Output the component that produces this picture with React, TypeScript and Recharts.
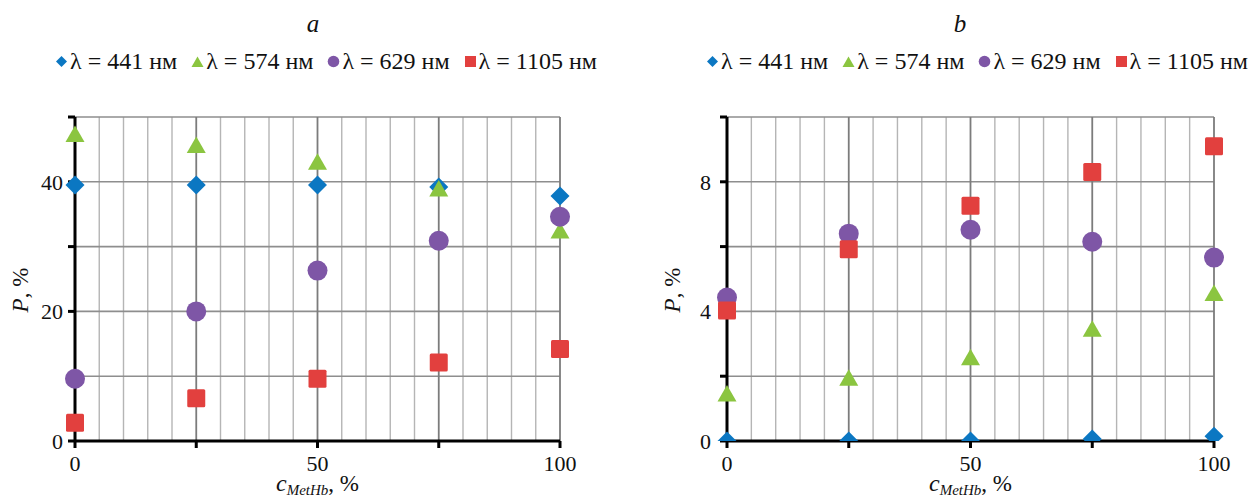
import { ScatterChart, Scatter, XAxis, YAxis, ReferenceLine } from 'recharts'

const FONT = '"Liberation Serif", "DejaVu Serif", "Noto Serif", "Times New Roman", serif'

// concentration of MetHb, %
const cValues = [0, 25, 50, 75, 100]

const seriesLabels = ['λ = 441 нм', 'λ = 574 нм', 'λ = 629 нм', 'λ = 1105 нм']
const seriesColors = ['#0b77c2', '#8bc540', '#7e56a6', '#e2403e']
const seriesShapes = ['diamond', 'triangle', 'circle', 'square'] as const

// panel a
const a441 = [39.5, 39.5, 39.5, 39.2, 37.8]
const a574 = [47.3, 45.6, 43.0, 38.9, 32.4]
const a629 = [9.6, 20.0, 26.3, 30.9, 34.6]
const a1105 = [2.8, 6.6, 9.6, 12.1, 14.2]

// panel b
const b441 = [0, 0, 0, 0.06, 0.15]
const b574 = [1.45, 1.94, 2.57, 3.45, 4.55]
const b629 = [4.43, 6.4, 6.52, 6.15, 5.66]
const b1105 = [4.03, 5.92, 7.26, 8.3, 9.1]

const xTicks = [0, 25, 50, 75, 100]
const xTickLabels = [0, 50, 100]
const xMajorGrid = [25, 50, 75, 100]
const xMinorGrid = [5, 10, 15, 20, 30, 35, 40, 45, 55, 60, 65, 70, 80, 85, 90, 95]

const yTicksA = [0, 10, 20, 30, 40, 50]
const yLabelsA = [0, 20, 40]
const yTicksB = [0, 2, 4, 6, 8, 10]
const yLabelsB = [0, 4, 8]

type Kind = (typeof seriesShapes)[number]

const Marker = ({ kind, cx, cy, fill }: { kind: Kind; cx: number; cy: number; fill: string }) => {
  if (cx == null || cy == null) return null
  if (kind === 'diamond') {
    const h = 9.5
    return <path d={`M${cx},${cy - h}L${cx + h},${cy}L${cx},${cy + h}L${cx - h},${cy}Z`} fill={fill} />
  }
  if (kind === 'triangle') {
    return <path d={`M${cx},${cy - 9}L${cx + 9.5},${cy + 7.5}L${cx - 9.5},${cy + 7.5}Z`} fill={fill} />
  }
  if (kind === 'circle') return <circle cx={cx} cy={cy} r={10} fill={fill} />
  return <rect x={cx - 9} y={cy - 9} width={18} height={18} rx={1.5} fill={fill} />
}

const LegendIcon = ({ kind, fill }: { kind: Kind; fill: string }) => (
  <svg width={13} height={13} style={{ marginRight: 2 }}>
    {kind === 'diamond' && <path d="M6.5,1L12,6.5L6.5,12L1,6.5Z" fill={fill} />}
    {kind === 'triangle' && <path d="M6.5,1.5L12.5,12L0.5,12Z" fill={fill} />}
    {kind === 'circle' && <circle cx={6.5} cy={6.5} r={5.8} fill={fill} />}
    {kind === 'square' && <rect x={1} y={1} width={11} height={11} fill={fill} />}
  </svg>
)

const XTitle = (props: any) => {
  const { x, y, width } = props.viewBox
  return (
    <text x={x + width / 2} y={y + 50} textAnchor="middle" fontFamily={FONT} fill="#111">
      <tspan fontStyle="italic" fontSize={24}>c</tspan>
      <tspan fontStyle="italic" fontSize={15} dy={4}>MetHb</tspan>
      <tspan fontSize={23} dy={-4}>, %</tspan>
    </text>
  )
}

const YTitle = (props: any) => {
  const { x, y, width, height } = props.viewBox
  const tx = x + width - 47
  const ty = y + height / 2 + 11
  return (
    <text x={tx} y={ty} transform={`rotate(-90, ${tx}, ${ty})`} textAnchor="middle" fontFamily={FONT} fontSize={23} fill="#111">
      <tspan fontStyle="italic">P</tspan>
      <tspan>, %</tspan>
    </text>
  )
}

interface PanelProps {
  title: string
  values: number[][]
  yMax: number
  yTicks: number[]
  yLabels: number[]
  yGrid: number[]
  left: number
  marginLeft: number
  marginRight: number
  tickGap: number
  titleX: number
  legendX: number
}

const Panel = (p: PanelProps) => (
  <div style={{ position: 'absolute', left: p.left, top: 0, width: 627, height: 501 }}>
    <div
      style={{
        position: 'absolute', left: p.titleX - 20, width: 40, top: 9, textAlign: 'center',
        fontStyle: 'italic', fontSize: 25, lineHeight: '30px', color: '#111',
      }}
    >
      {p.title}
    </div>
    <div
      style={{
        position: 'absolute', left: p.legendX, top: 46, display: 'flex', alignItems: 'center',
        fontSize: 24, lineHeight: '30px', color: '#111', whiteSpace: 'nowrap',
      }}
    >
      {seriesLabels.map((name, i) => (
        <span key={name} style={{ display: 'flex', alignItems: 'center', marginRight: 14 }}>
          <LegendIcon kind={seriesShapes[i]} fill={seriesColors[i]} />
          {name}
        </span>
      ))}
    </div>
    <div style={{ position: 'absolute', left: 0, top: 0 }}>
      <ScatterChart
        width={627}
        height={501}
        margin={{ top: 117, right: p.marginRight, bottom: 20, left: p.marginLeft }}
      >
        <XAxis
          type="number"
          dataKey="x"
          domain={[0, 100]}
          ticks={xTicks}
          interval={0}
          tickFormatter={(v: number) => (xTickLabels.includes(v) ? String(v) : '')}
          height={40}
          axisLine={{ stroke: '#000', strokeWidth: 3 }}
          tickLine={{ stroke: '#000', strokeWidth: 3 }}
          tickSize={7}
          tickMargin={7}
          tick={{ fill: '#111', fontSize: 22, fontFamily: FONT }}
          label={<XTitle />}
        />
        <YAxis
          type="number"
          dataKey="y"
          domain={[0, p.yMax]}
          ticks={p.yTicks}
          interval={0}
          allowDataOverflow
          tickFormatter={(v: number) => (p.yLabels.includes(v) ? String(v) : '')}
          width={60}
          axisLine={{ stroke: '#000', strokeWidth: 3 }}
          tickLine={{ stroke: '#000', strokeWidth: 3 }}
          tickSize={7}
          tickMargin={p.tickGap}
          tick={{ fill: '#111', fontSize: 22, fontFamily: FONT }}
          label={<YTitle />}
        />
        {xMinorGrid.map(v => (
          <ReferenceLine key={'xm' + v} x={v} stroke="#b5b5b5" strokeWidth={1.4} />
        ))}
        {p.yGrid.map(v => (
          <ReferenceLine key={'y' + v} y={v} stroke="#8e8e8e" strokeWidth={1.6} />
        ))}
        {xMajorGrid.map(v => (
          <ReferenceLine key={'xM' + v} x={v} stroke="#7c7c7c" strokeWidth={1.8} />
        ))}
        {p.values.map((vals, i) => (
          <Scatter
            key={seriesLabels[i]}
            name={seriesLabels[i]}
            data={cValues.map((c, j) => ({ x: c, y: vals[j] }))}
            fill={seriesColors[i]}
            isAnimationActive={false}
            shape={(sp: any) => <Marker kind={seriesShapes[i]} cx={sp.cx} cy={sp.cy} fill={seriesColors[i]} />}
          />
        ))}
      </ScatterChart>
    </div>
  </div>
)

export default function App() {
  return (
    <div
      style={{
        position: 'absolute', left: 0, top: 0, width: 1254, height: 501,
        background: '#fff', fontFamily: FONT, overflow: 'hidden',
      }}
    >
      <Panel
        title="a"
        values={[a441, a574, a629, a1105]}
        yMax={50}
        yTicks={yTicksA}
        yLabels={yLabelsA}
        yGrid={[10, 20, 30, 40, 50]}
        left={0}
        marginLeft={15}
        marginRight={67}
        tickGap={5}
        titleX={313}
        legendX={55}
      />
      <Panel
        title="b"
        values={[b441, b574, b629, b1105]}
        yMax={10}
        yTicks={yTicksB}
        yLabels={yLabelsB}
        yGrid={[2, 4, 6, 8, 10]}
        left={627}
        marginLeft={40}
        marginRight={40}
        tickGap={9}
        titleX={333}
        legendX={79}
      />
    </div>
  )
}
